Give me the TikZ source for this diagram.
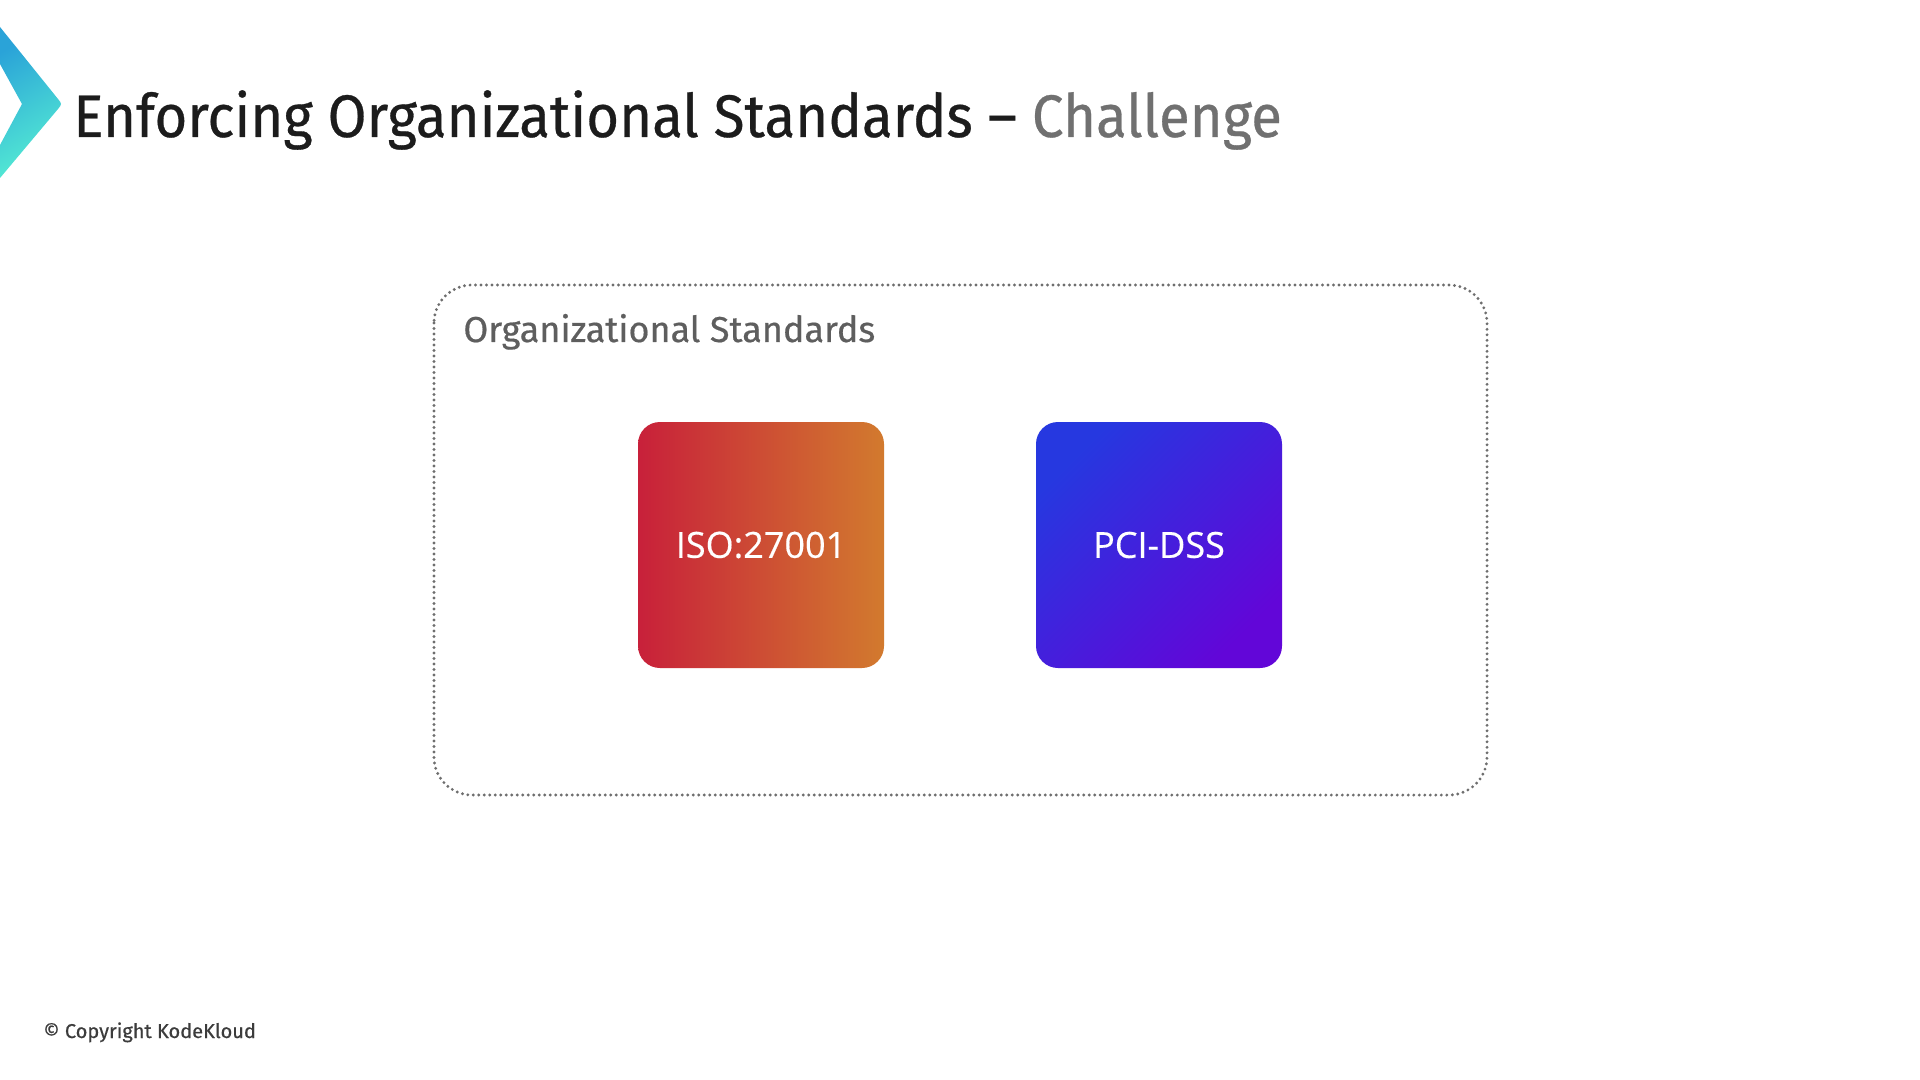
\documentclass[tikz,border=0pt]{standalone}
\usepackage{fontspec}
\setmainfont{Fira Sans}[UprightFeatures={FakeBold=0.5}]
\newfontfamily\boxfont{Open Sans}[UprightFeatures={FakeBold=0.4}]
\usetikzlibrary{positioning}
\definecolor{titleblack}{HTML}{1C1C1C}
\definecolor{titlegray}{HTML}{707070}
\definecolor{labelgray}{HTML}{5E5E5E}
\definecolor{copygray}{HTML}{3C3C3C}
\definecolor{dotgray}{HTML}{6E6E6E}
\definecolor{isoleft}{HTML}{C8203A}
\definecolor{isoright}{HTML}{D27A2E}
\definecolor{pcitop}{HTML}{2638E0}
\definecolor{pcibottom}{HTML}{6206D8}
\definecolor{chevtop}{HTML}{2AA3D8}
\definecolor{chevbottom}{HTML}{55ECD3}
\tikzset{
  px/.style={x=0.5pt,y=-0.5pt},
  stdcard/.style={minimum width=123pt,minimum height=123pt,rounded corners=11pt,inner sep=0pt,text=white,font=\boxfont\fontsize{18}{22}\selectfont},
  groupbox/.style={draw=dotgray,line width=1.6pt,dash pattern=on 0pt off 2.75pt,line cap=round,rounded corners=19pt}
}
\begin{document}
\begin{tikzpicture}[px]
\fill[white] (0,0) rectangle (1920,1080);
\useasboundingbox (0,0) rectangle (1920,1080);
% logo chevron
\shade[top color=chevtop,bottom color=chevbottom,shading angle=30]
  (0,27) -- (58,99) .. controls (62,104) .. (58,109) -- (0,178) -- (0,145) -- (22,104) -- (0,64) -- cycle;
% title
\node[anchor=base west,inner sep=0pt,font=\fontsize{30}{36}\selectfont] (title) at (73,137)
  {\scalebox{0.94}[1]{\textcolor{titleblack}{Enforcing Organizational Standards –} \textcolor{titlegray}{Challenge}}};
% group box
\draw[groupbox] (434,285) rectangle (1487,795);
\node[anchor=base west,inner sep=0pt,text=labelgray,font=\fontsize{18}{22}\selectfont] (grouplabel) at (463,342) {Organizational Standards};
% cards
\node[stdcard,shading=axis,left color=isoleft,right color=isoright] (iso) at (761,545) {ISO:27001};
\node[stdcard,shading=axis,top color=pcitop,bottom color=pcibottom,shading angle=45] (pci) at (1159,545) {PCI-DSS};
% copyright
\node[anchor=base west,inner sep=0pt,text=copygray,font=\fontsize{10}{12}\selectfont] (copy) at (43,1038) {© Copyright KodeKloud};
\end{tikzpicture}
\end{document}
